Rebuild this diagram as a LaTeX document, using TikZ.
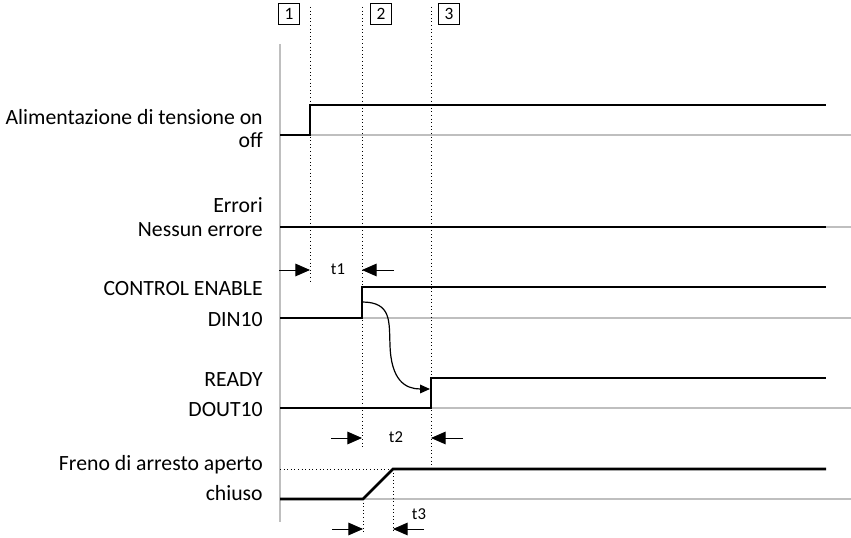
\documentclass[tikz,border=0pt]{standalone}
\usepackage{fontspec}
\setmainfont{Carlito}
\usetikzlibrary{arrows.meta}
\begin{document}
\begin{tikzpicture}[x=0.75pt,y=-0.75pt,
  sig/.style={line width=2.1pt, line join=miter, black},
  base/.style={line width=0.9pt, black!25},
  axisline/.style={line width=2.2pt, black!25},
  dots/.style={line width=0.7pt, dotted, black},
  dimarr/.style={line width=0.7pt, -{Triangle[length=11pt,width=9.5pt]}},
  flowarr/.style={line width=0.9pt, -{Triangle[length=7.5pt,width=6.5pt]}},
  lab/.style={anchor=base east, inner sep=0pt, font=\fontsize{16.3}{19}\selectfont},
  tlab/.style={anchor=base, inner sep=0pt, font=\fontsize{12.5}{15}\selectfont},
  numbox/.style={draw, line width=0.7pt, minimum width=15.5pt, minimum height=15.5pt, inner sep=0pt, font=\fontsize{13}{15}\selectfont}]
\useasboundingbox (0,0) rectangle (851,538);

% axis
\draw[axisline] (280,44) -- (280,522);
% baselines
\foreach \yy in {135,227,318,408,499}
  \draw[base] (280,\yy) -- (851,\yy);

% marker boxes
\node[numbox] (b1) at (289,14) {1};
\node[numbox] (b2) at (381,14) {2};
\node[numbox] (b3) at (449,14) {3};

% dotted verticals
\coordinate (v1t) at (310,7);   \coordinate (v1b) at (310,282);
\coordinate (v2t) at (362,7);   \coordinate (v2b) at (362,448);
\coordinate (v3t) at (431,7);   \coordinate (v3b) at (431,469);
\draw[dots] (v1t) -- (v1b);
\draw[dots] (v2t) -- (v2b);
\draw[dots] (v3t) -- (v3b);
\draw[dots] (363,499) -- (363,533);
\draw[dots] (393,469) -- (393,533);
\draw[dots] (280,469) -- (393,469);

% signals
\draw[sig] (280,135) -- (310,135) -- (310,105) -- (826,105);
\draw[sig] (280,227) -- (826,227);
\draw[sig] (280,318) -- (362,318) -- (362,287) -- (826,287);
\draw[sig] (280,408) -- (431,408) -- (431,378) -- (826,378);
\draw[sig] (280,499) -- (363,499) -- (393,469) -- (826,469);

% causal curve
\coordinate (cs) at (362,302);
\coordinate (ce) at (430,389);
\draw[flowarr] (cs) .. controls (392,302) and (389,322) .. (390,345)
  .. controls (391,380) and (405,389) .. (ce);

% labels
\node[lab] (l1) at (263,125) {Alimentazione di tensione on};
\node[lab] (l2) at (263,148) {off};
\node[lab] (l3) at (263,213) {Errori};
\node[lab] (l4) at (263,237) {Nessun errore};
\node[lab] (l5) at (263,296) {CONTROL ENABLE};
\node[lab] (l6) at (263,327) {DIN10};
\node[lab] (l7) at (263,387) {READY};
\node[lab] (l8) at (263,417) {DOUT10};
\node[lab] (l9) at (263,471) {Freno di arresto aperto};
\node[lab] (l10) at (263,501) {chiuso};

% time dimensions
\coordinate (a1s) at (279,270); \coordinate (a1e) at (310,270);
\coordinate (a2s) at (394,270); \coordinate (a2e) at (362,270);
\draw[dimarr] (a1s) -- (a1e);
\draw[dimarr] (a2s) -- (a2e);
\node[tlab] (t1) at (338,275) {t1};

\coordinate (a3s) at (331,438); \coordinate (a3e) at (362,438);
\coordinate (a4s) at (463,438); \coordinate (a4e) at (431,438);
\draw[dimarr] (a3s) -- (a3e);
\draw[dimarr] (a4s) -- (a4e);
\node[tlab] (t2) at (396,443) {t2};

\coordinate (a5s) at (332,529); \coordinate (a5e) at (363,529);
\coordinate (a6s) at (424,529); \coordinate (a6e) at (393,529);
\draw[dimarr] (a5s) -- (a5e);
\draw[dimarr] (a6s) -- (a6e);
\node[tlab] (t3) at (419,520) {t3};
\end{tikzpicture}
\end{document}
